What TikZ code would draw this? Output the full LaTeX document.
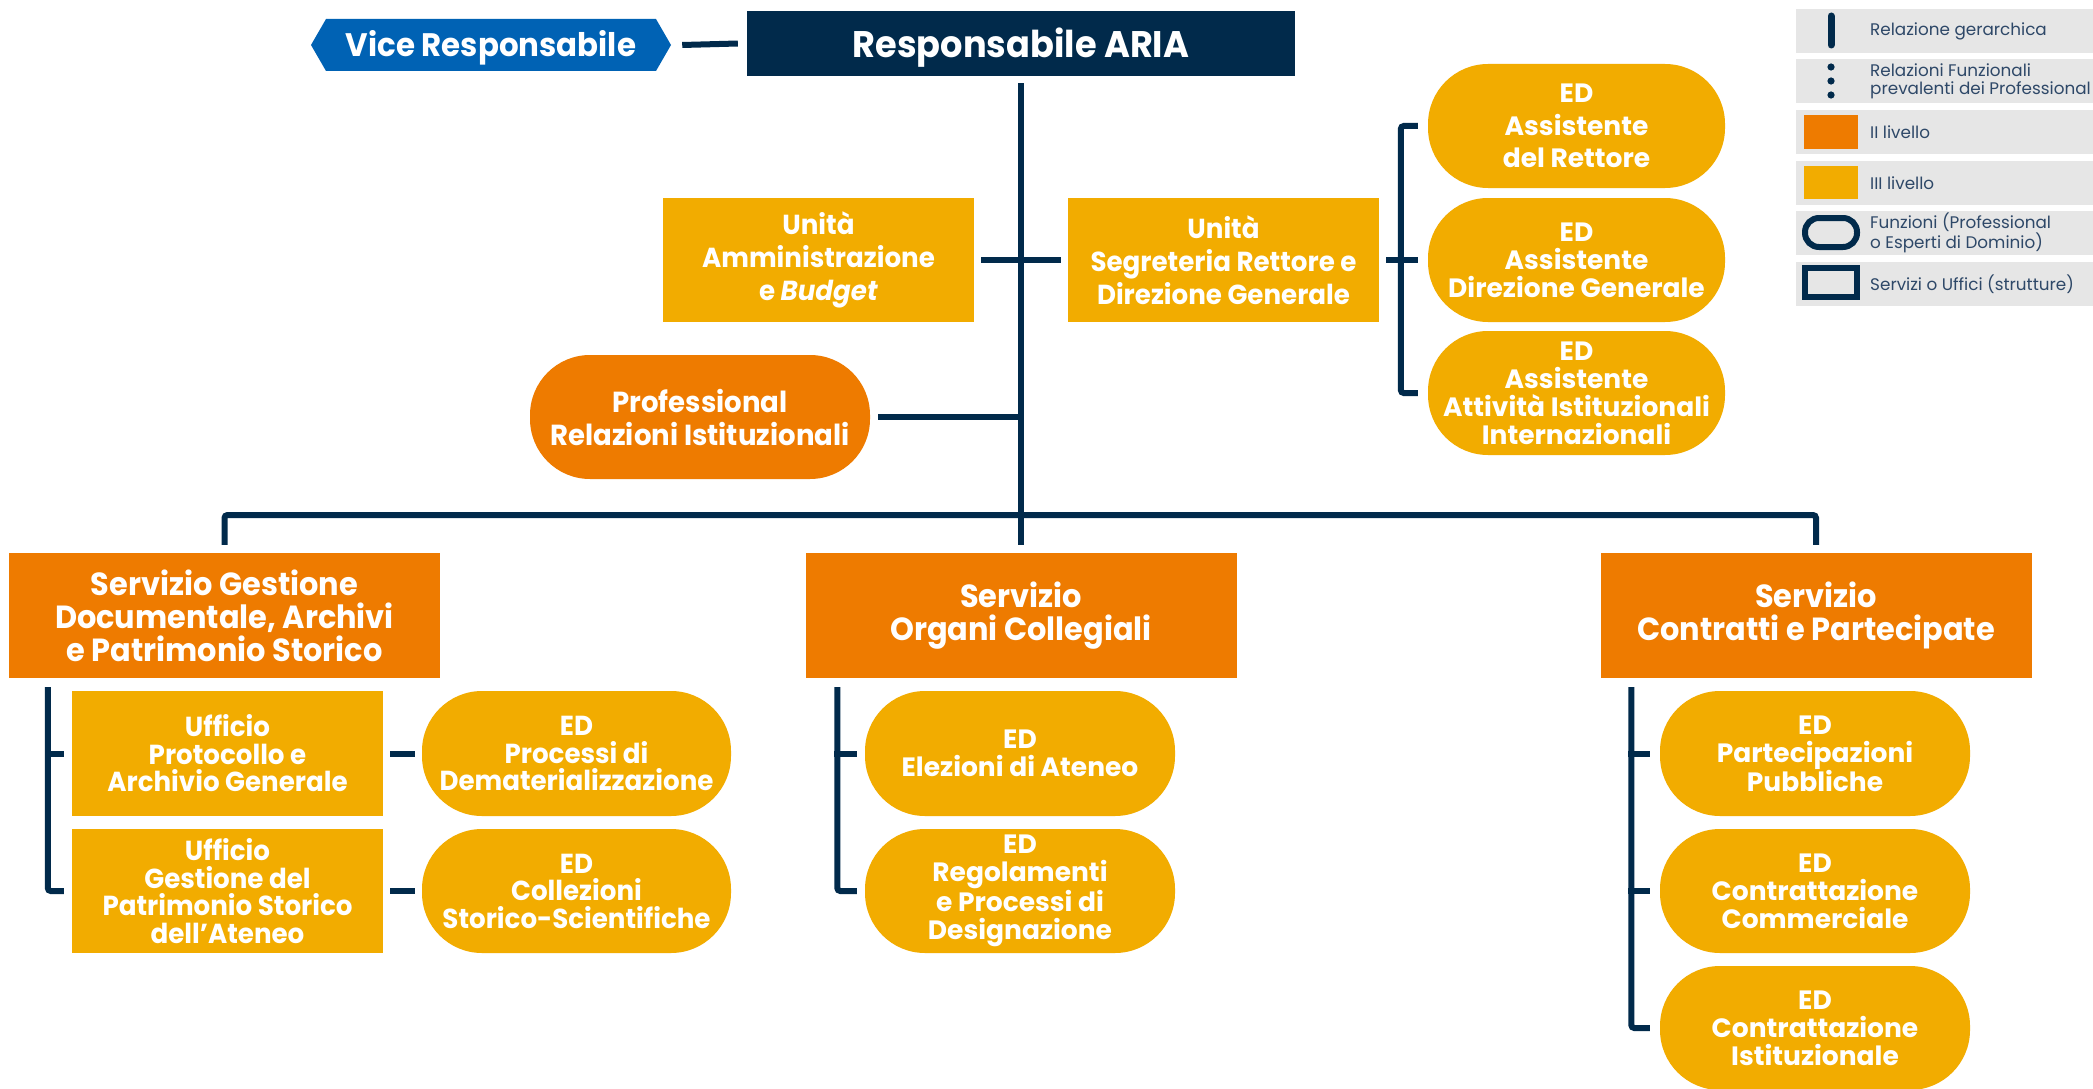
\documentclass[tikz,border=0pt]{standalone}
\usepackage{fontspec}
\setmainfont{Poppins}
\newfontfamily\condfont[FakeStretch=0.95]{Poppins}
\usetikzlibrary{shapes.symbols}

\definecolor{navy}{HTML}{012A4B}
\definecolor{viceblue}{HTML}{0062B4}
\definecolor{orangeII}{HTML}{EE7B00}
\definecolor{yellowIII}{HTML}{F2AC00}
\definecolor{legbg}{HTML}{E6E6E6}
\definecolor{legtext}{HTML}{2E4868}

\tikzset{
  conn/.style={draw=navy, line width=6pt},
  brk/.style={draw=navy, line width=6pt, rounded corners=3pt},
  unit/.style={rectangle, inner sep=0pt, align=center, text=white,
    minimum width=311pt, minimum height=124pt},
  srv/.style={rectangle, inner sep=0pt, align=center, text=white, fill=orangeII,
    minimum width=431pt, minimum height=125pt,
    font=\condfont\bfseries\fontsize{32}{33}\selectfont},
  pill/.style={rectangle, rounded corners=60pt, inner sep=0pt, align=center,
    text=white, minimum height=124pt},
  lvIII/.style={fill=yellowIII},
  lvII/.style={fill=orangeII},
  wide/.style={font=\bfseries\fontsize{26.5}{28}\selectfont},
  widetall/.style={font=\bfseries\fontsize{26.5}{32.5}\selectfont},
  narrow/.style={font=\condfont\bfseries\fontsize{27.5}{33}\selectfont},
  narrowsm/.style={font=\condfont\bfseries\fontsize{27.5}{27.5}\selectfont},
  legrow/.style={rectangle, fill=legbg, inner sep=0pt, minimum width=297pt,
    minimum height=44pt, anchor=west},
  legtxt/.style={anchor=west, inner sep=0pt, align=left, text=legtext,
    font=\fontsize{16.8}{18}\selectfont},
}

\begin{document}
\begin{tikzpicture}[x=1pt, y=-1pt]
\useasboundingbox (0,0) rectangle (2093,1089);
\fill[white] (0,0) rectangle (2093,1089);

% ---- top level ----
\node[rectangle, fill=navy, text=white, minimum width=548pt, minimum height=65pt,
  inner sep=0pt, text height=29pt, text depth=0pt,
  font=\condfont\bfseries\fontsize{37}{40}\selectfont]
  (resp) at (1021,43.5) {Responsabile ARIA};
\node[signal, signal to=west and east, signal pointer angle=120, fill=viceblue,
  text=white, minimum width=360pt, minimum height=52pt, inner sep=0pt,
  text height=23pt, text depth=0pt,
  font=\condfont\bfseries\fontsize{32.5}{34}\selectfont]
  (vice) at (491,45) {Vice Responsabile};

% ---- staff units ----
\node[unit, lvIII, narrow] (adm) at (818.5,260) {Unità\\Amministrazione\\e \textit{Budget}};
\node[unit, lvIII, narrow] (seg) at (1223.5,260) {Unità\\Segreteria Rettore e\\Direzione Generale};
\node[pill, lvII, minimum width=340pt, font=\condfont\bfseries\fontsize{29}{33}\selectfont]
  (prof) at (700,417) {Professional\\Relazioni Istituzionali};

\node[pill, lvIII, widetall, minimum width=297pt] (ed1) at (1576.5,126) {ED\\Assistente\\del Rettore};
\node[pill, lvIII, wide, minimum width=297pt] (ed2) at (1576.5,260) {ED\\Assistente\\Direzione Generale};
\node[pill, lvIII, wide, minimum width=297pt] (ed3) at (1576.5,393) {ED\\Assistente\\Attività Istituzionali\\Internazionali};

% ---- services ----
\node[srv] (sgd) at (224.5,615.5) {Servizio Gestione\\Documentale, Archivi\\e Patrimonio Storico};
\node[srv] (soc) at (1021,615.5) {Servizio\\Organi Collegiali};
\node[srv] (scp) at (1816,615.5) {Servizio\\Contratti e Partecipate};

% left branch
\node[unit, lvIII, narrowsm, minimum height=125pt] (uf1) at (227.5,753.5) {Ufficio\\Protocollo e\\Archivio Generale};
\node[unit, lvIII, narrowsm] (uf2) at (227.5,891) {Ufficio\\Gestione del\\Patrimonio Storico\\dell’Ateneo};
\node[pill, lvIII, narrowsm, minimum width=309pt, minimum height=125pt] (edp1) at (576.5,753.5) {ED\\Processi di\\Dematerializzazione};
\node[pill, lvIII, narrowsm, minimum width=309pt] (edp2) at (576.5,891) {ED\\Collezioni\\Storico-Scientifiche};

% middle branch
\node[pill, lvIII, wide, minimum width=310pt, minimum height=125pt] (edm1) at (1020,753.5) {ED\\Elezioni di Ateneo};
\node[pill, lvIII, wide, minimum width=310pt] (edm2) at (1020,891) {ED\\Regolamenti\\e Processi di\\Designazione};

% right branch
\node[pill, lvIII, wide, minimum width=310pt, minimum height=125pt] (edr1) at (1815,753.5) {ED\\Partecipazioni\\Pubbliche};
\node[pill, lvIII, wide, minimum width=310pt] (edr2) at (1815,891) {ED\\Contrattazione\\Commerciale};
\node[pill, lvIII, wide, minimum width=310pt] (edr3) at (1815,1028) {ED\\Contrattazione\\Istituzionale};

% ---- connectors ----
\coordinate (hub) at (1021,515);
\draw[conn] ([xshift=11pt]vice.east) -- ([xshift=-9pt]resp.west);
\draw[conn] ([yshift=-7pt]resp.south) -- ([yshift=8pt]soc.north);
\draw[conn] ([xshift=7pt]adm.east) -- ([xshift=-7pt]seg.west);
\draw[conn] ([xshift=8pt]prof.east) -- (prof.east -| hub);
\draw[brk] ([yshift=8pt]sgd.north) |- (hub) -| ([yshift=8pt]scp.north);

% bracket towards the assistants
\draw[conn] ([xshift=7pt]seg.east) -- ([xshift=-10pt]ed2.west);
\draw[brk] ([xshift=-10pt]ed1.west) -- ++(-17,0) |- ([xshift=-10pt]ed3.west);

% left branch brackets
\draw[brk] ([xshift=39pt,yshift=-9pt]sgd.south west) |- ([xshift=-8pt]uf2.west);
\draw[conn] ([xshift=-8pt]uf1.west) -- ++(-19,0);
\draw[conn] ([xshift=7pt]uf1.east) -- ([xshift=-7pt]edp1.west);
\draw[conn] ([xshift=7pt]uf2.east) -- ([xshift=-7pt]edp2.west);

% middle branch bracket
\draw[brk] ([xshift=32pt,yshift=-9pt]soc.south west) |- ([xshift=-8pt]edm2.west);
\draw[conn] ([xshift=-8pt]edm1.west) -- ++(-23,0);

% right branch bracket
\draw[brk] ([xshift=31pt,yshift=-9pt]scp.south west) |- ([xshift=-10pt]edr3.west);
\draw[conn] ([xshift=-10pt]edr1.west) -- ++(-22,0);
\draw[conn] ([xshift=-10pt]edr2.west) -- ++(-22,0);

% ---- legend ----
\node[legrow] (lg1) at (1796,31) {};
\node[legrow] (lg2) at (1796,81) {};
\node[legrow] (lg3) at (1796,132) {};
\node[legrow] (lg4) at (1796,183) {};
\node[legrow] (lg5) at (1796,233) {};
\node[legrow] (lg6) at (1796,284) {};

\draw[navy, line width=7pt, line cap=round] (1831,16) -- (1831,45);
\fill[navy] (1831,67) circle (3.6pt) (1831,81) circle (3.6pt) (1831,95) circle (3.6pt);
\node[rectangle, fill=orangeII, minimum width=54pt, minimum height=34pt, inner sep=0pt] (sqII) at (1831,132) {};
\node[rectangle, fill=yellowIII, minimum width=54pt, minimum height=33pt, inner sep=0pt] (sqIII) at (1831,182.5) {};
\node[rectangle, draw=navy, line width=6pt, rounded corners=14pt, minimum width=52pt, minimum height=29pt, inner sep=0pt] (icpill) at (1831,232.5) {};
\node[rectangle, draw=navy, line width=6pt, minimum width=52pt, minimum height=29pt, inner sep=0pt] (icbox) at (1831,282.5) {};

\node[legtxt] (t1) at (1870,31) {Relazione gerarchica};
\node[legtxt] (t2) at (1870,81) {Relazioni Funzionali\\prevalenti dei Professional};
\node[legtxt] (t3) at (1870,132) {II livello};
\node[legtxt] (t4) at (1870,183) {III livello};
\node[legtxt] (t5) at (1870,233) {Funzioni (Professional\\o Esperti di Dominio)};
\node[legtxt] (t6) at (1870,284) {Servizi o Uffici (strutture)};
\end{tikzpicture}
\end{document}
